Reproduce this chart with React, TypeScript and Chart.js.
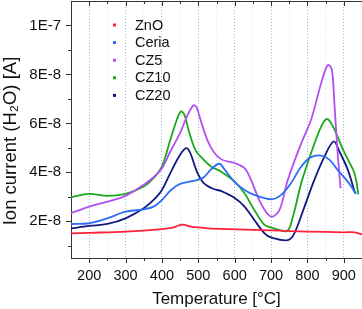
import React, { useEffect, useRef } from 'react';
import { Chart, registerables } from 'chart.js';

Chart.register(...registerables);

const FONT = "Arial, 'Liberation Sans', sans-serif";

const seriesNames = ['ZnO', 'Ceria', 'CZ5', 'CZ10', 'CZ20'];
const seriesColors = ['#ff2238', '#2f6cf6', '#b24ff0', '#1aa81c', '#12197e'];

// Temperatures [°C] and ion current values (units of 1E-8 A)
const znoT = [150, 200, 300, 400, 430, 455, 480, 520, 560, 650, 700, 750, 800, 900, 930, 950];
const znoV = [1.51, 1.53, 1.58, 1.68, 1.74, 1.86, 1.78, 1.72, 1.69, 1.65, 1.63, 1.6, 1.58, 1.55, 1.55, 1.46];

const ceriaT = [150, 200, 250, 300, 350, 377, 400, 425, 450, 490, 515, 535, 558, 572, 600, 627, 654, 700, 728, 755, 783, 810, 838, 861, 883, 911, 934];
const ceriaV = [1.89, 1.92, 2.12, 2.39, 2.49, 2.6, 2.87, 3.28, 3.53, 3.66, 3.8, 4.12, 4.35, 4.12, 3.6, 3.28, 3.08, 2.9, 3.08, 3.56, 4.24, 4.62, 4.68, 4.51, 4.1, 3.62, 3.12];

const cz5T = [150, 200, 250, 300, 350, 377, 400, 423, 450, 469, 487, 496, 510, 533, 561, 600, 627, 645, 672, 700, 723, 746, 783, 810, 838, 856, 867, 874, 883, 891];
const cz5V = [2.33, 2.6, 2.8, 3.04, 3.49, 3.8, 4.17, 4.85, 5.61, 6.29, 6.74, 6.63, 5.95, 5.06, 4.55, 4.38, 4.17, 3.69, 2.73, 2.19, 2.46, 3.69, 5.19, 6.15, 7.66, 8.38, 8.2, 6.84, 4.79, 3.35];

const cz10T = [150, 200, 250, 300, 350, 377, 400, 423, 441, 452, 462, 473, 492, 515, 535, 562, 600, 627, 654, 682, 700, 744, 760, 783, 810, 838, 854, 870, 902, 929, 940];
const cz10V = [2.98, 3.12, 3.04, 3.12, 3.42, 3.76, 4.24, 5.33, 6.15, 6.49, 6.35, 5.74, 4.92, 4.51, 4.24, 4.03, 3.62, 3.15, 2.46, 1.85, 1.75, 1.61, 2.19, 3.56, 4.79, 5.88, 6.18, 5.88, 4.79, 3.97, 3.1];

const cz20T = [150, 200, 250, 300, 350, 377, 400, 423, 450, 467, 478, 496, 515, 542, 562, 600, 627, 654, 682, 700, 746, 764, 792, 819, 847, 872, 888, 911, 931];
const cz20V = [1.71, 1.81, 1.89, 2.12, 2.53, 2.87, 3.28, 3.97, 4.72, 4.99, 4.79, 4.03, 3.56, 3.32, 3.24, 2.95, 2.6, 2.05, 1.51, 1.34, 1.23, 1.51, 2.6, 3.69, 4.65, 5.26, 4.85, 4.1, 3.15];

const seriesT = [znoT, ceriaT, cz5T, cz10T, cz20T];
const seriesV = [znoV, ceriaV, cz5V, cz10V, cz20V];

const xMin = 150;
const xMax = 950;
const xLabelTicks = [200, 300, 400, 500, 600, 700, 800, 900];
const xGridTicks = [200, 250, 300, 350, 400, 450, 500, 550, 600, 650, 700, 750, 800, 850, 900];
const xTickMarks = [200, 250, 300, 350, 400, 450, 500, 550, 600, 650, 700, 750, 800, 850, 900];

const yMin = 0.5;
const yMax = 11;
const yTickValues = [2, 4, 6, 8, 10];
const yTickLabels = ['2E-8', '4E-8', '6E-8', '8E-8', '1E-7'];
const yMinorTicks = [1, 3, 5, 7, 9];
const yTitle = 'Ion current (H₂O) [A]';
const xTitle = 'Temperature [°C]';

const decorPlugin = {
  id: 'decor',
  afterDraw(chart: any) {
    const { ctx, chartArea, scales } = chart;
    const { left, right, top, bottom } = chartArea;
    const x = scales.x;
    const y = scales.y;
    ctx.save();
    ctx.strokeStyle = '#333';
    ctx.lineWidth = 1;
    ctx.beginPath();
    ctx.moveTo(left, top + 0.5);
    ctx.lineTo(right, top + 0.5);
    xTickMarks.forEach((v) => {
      const px = Math.round(x.getPixelForValue(v)) + 0.5;
      const len = v % 100 === 0 ? 5 : 3;
      ctx.moveTo(px, bottom);
      ctx.lineTo(px, bottom + len);
      ctx.moveTo(px, top);
      ctx.lineTo(px, top + len);
    });
    yTickValues.forEach((v) => {
      const py = Math.round(y.getPixelForValue(v)) + 0.5;
      ctx.moveTo(left - 5, py);
      ctx.lineTo(left, py);
    });
    yMinorTicks.forEach((v) => {
      const py = Math.round(y.getPixelForValue(v)) + 0.5;
      ctx.moveTo(left - 3, py);
      ctx.lineTo(left, py);
    });
    ctx.stroke();

    // y-axis title
    ctx.save();
    ctx.translate(10.5, 141);
    ctx.rotate(-Math.PI / 2);
    ctx.font = `18.5px ${FONT}`;
    ctx.fillStyle = '#111';
    ctx.textAlign = 'center';
    ctx.textBaseline = 'middle';
    ctx.fillText(yTitle, 0, 0);
    ctx.restore();

    // legend
    ctx.font = `14.5px ${FONT}`;
    ctx.textBaseline = 'middle';
    ctx.textAlign = 'left';
    chart.data.datasets.forEach((ds: any, i: number) => {
      const ly = 25 + i * 17.6;
      ctx.fillStyle = ds.borderColor;
      ctx.fillRect(113, ly - 1.5, 3, 3);
      ctx.fillStyle = '#111';
      ctx.fillText(ds.label, 135, ly + 0.5);
    });
    ctx.restore();
  },
};

export default function App() {
  const canvasRef = useRef<HTMLCanvasElement | null>(null);

  useEffect(() => {
    document.body.style.margin = '0';
    const canvas = canvasRef.current;
    if (!canvas) return;
    const datasets = seriesNames.map((name, i) => ({
      label: name,
      data: seriesT[i].map((t, j) => ({ x: t, y: seriesV[i][j] })),
      borderColor: seriesColors[i],
      backgroundColor: seriesColors[i],
      borderWidth: 1.8,
      pointRadius: 0,
      tension: 0.35,
      fill: false,
    }));
    const chart = new Chart(canvas, {
      type: 'line',
      data: { datasets },
      plugins: [decorPlugin],
      options: {
        responsive: false,
        animation: false,
        events: [],
        layout: { padding: { top: 1, right: 0, left: 0, bottom: 0 } },
        plugins: {
          legend: { display: false },
          tooltip: { enabled: false },
        },
        scales: {
          x: {
            type: 'linear',
            min: xMin,
            max: xMax,
            afterBuildTicks: (s: any) => {
              s.ticks = xGridTicks.map((v) => ({ value: v }));
            },
            afterFit: (s: any) => {
              s.height = 51;
              s.paddingLeft = 0;
              s.paddingRight = 0;
              s.paddingTop = 0;
              s.paddingBottom = 0;
            },
            ticks: {
              autoSkip: false,
              maxRotation: 0,
              padding: 9,
              color: '#111',
              font: { size: 14.5, family: FONT },
              callback: (v: any) => (xLabelTicks.includes(Number(v)) ? String(v) : ''),
            },
            grid: {
              drawTicks: false,
              lineWidth: 1,
              color: (c: any) =>
                c.tick && c.tick.value % 100 === 0 ? '#a3b6c9' : '#dfe3e7',
            },
            border: { display: true, color: '#333', width: 1, dash: [1, 2] },
            title: {
              display: true,
              text: xTitle,
              color: '#111',
              font: { size: 17, family: FONT, lineHeight: 1.1 },
              padding: 0,
            },
          },
          y: {
            type: 'linear',
            min: yMin,
            max: yMax,
            afterBuildTicks: (s: any) => {
              s.ticks = yTickValues.map((v) => ({ value: v }));
            },
            afterFit: (s: any) => {
              s.width = 71;
              s.paddingLeft = 0;
              s.paddingRight = 0;
              s.paddingTop = 0;
              s.paddingBottom = 0;
            },
            ticks: {
              padding: 10,
              color: '#111',
              font: { size: 15, family: FONT },
              callback: (v: any) => {
                const idx = yTickValues.indexOf(Number(v));
                return idx >= 0 ? yTickLabels[idx] : '';
              },
            },
            grid: { display: false, drawTicks: false },
            border: { display: true, color: '#333', width: 1 },
            title: { display: false },
          },
        },
      },
    });
    return () => chart.destroy();
  }, []);

  return (
    <div style={{ position: 'fixed', left: 0, top: 0, width: 362, height: 309 }}>
      <canvas ref={canvasRef} width={362} height={309} style={{ display: 'block' }} />
    </div>
  );
}
